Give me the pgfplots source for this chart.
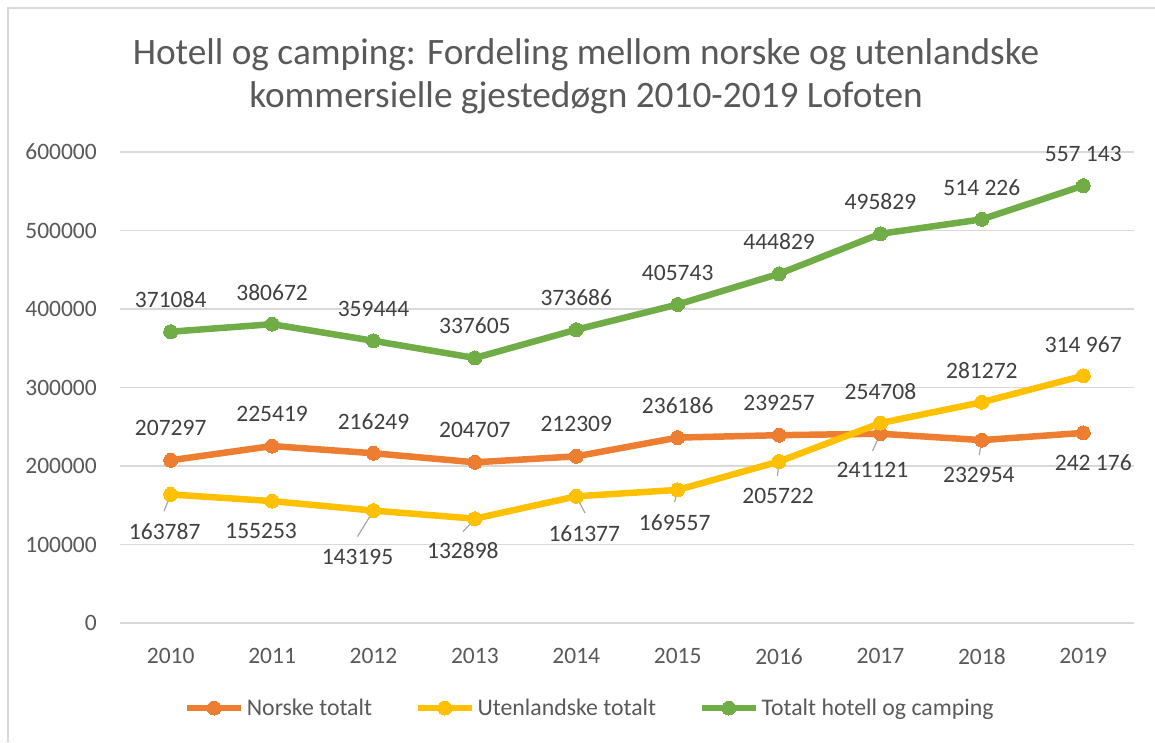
\documentclass[border=0pt]{standalone}
\usepackage{fontspec}
\setmainfont{Carlito}
\usepackage{pgfplots}
\usepackage{pgfplotstable}
\pgfplotsset{compat=1.18}
\definecolor{cOr}{HTML}{ED7D31}
\definecolor{cYe}{HTML}{FFC000}
\definecolor{cGr}{HTML}{70AD47}
\definecolor{gridc}{HTML}{D9D9D9}
\definecolor{txt}{HTML}{595959}
\definecolor{lbl}{HTML}{404040}
\definecolor{lead}{HTML}{A6A6A6}
\newcommand\lblfont{\fontsize{23.5}{28}\selectfont}

\pgfplotstableread[col sep=comma]{
x,y,lab,dx,dy
0,207297,207297,0,32
1,225419,225419,0,32
2,216249,216249,0,32
3,204707,204707,0,32
4,212309,212309,0,32
5,236186,236186,0,32
6,239257,239257,0,32
7,241121,241121,-8,-36
8,232954,232954,-3,-35
9,242176,242 176,10,-30
}\tNor

\pgfplotstableread[col sep=comma]{
x,y,lab,dx,dy
0,163787,163787,-6,-37
1,155253,155253,-11,-30
2,143195,143195,-16,-46
3,132898,132898,-12,-32
4,161377,161377,8,-37
5,169557,169557,-3,-33
6,205722,205722,-1,-34
7,254708,254708,0,31
8,281272,281272,0,32
9,314967,314 967,0,31
}\tUte

\pgfplotstableread[col sep=comma]{
x,y,lab,dx,dy
0,371084,371084,0,32
1,380672,380672,0,32
2,359444,359444,0,32
3,337605,337605,0,32
4,373686,373686,0,32
5,405743,405743,0,32
6,444829,444829,0,32
7,495829,495829,0,32
8,514226,514 226,0,32
9,557143,557 143,0,32
}\tTot

\pgfplotsset{
  datalabels/.style={forget plot, only marks, mark=none,
    nodes near coords, point meta=explicit symbolic,
    visualization depends on={\thisrow{dx}\as\dx},
    visualization depends on={\thisrow{dy}\as\dy},
    every node near coord/.append style={anchor=center, inner sep=0pt, xshift=\dx pt, yshift=\dy pt, font=\lblfont, text=lbl}},
}

\begin{document}
\begin{tikzpicture}
\path[use as bounding box] (0pt,0pt) rectangle (1155pt,742pt);
\draw[gridc, line width=1.5pt] (8pt,0pt) -- (8pt,734pt) -- (1155pt,734pt);
\node[anchor=base, text=txt, inner sep=0pt, font=\fontsize{37.3}{43}\selectfont] at (586pt,677pt) {Hotell og camping: Fordeling mellom norske og utenlandske};
\node[anchor=base, text=txt, inner sep=0pt, font=\fontsize{37.3}{43}\selectfont] at (586pt,634pt) {kommersielle gjestedøgn 2010-2019 Lofoten};
\begin{axis}[
  at={(120pt,119pt)}, anchor=south west,
  width=1014pt, height=471pt, scale only axis,
  xmin=-0.5, xmax=9.5, ymin=0, ymax=600000,
  clip=false,
  scaled y ticks=false,
  axis line style={draw=none},
  ymajorgrids, major grid style={gridc, line width=1.3pt},
  major tick length=0pt,
  xtick={0,1,2,3,4,5,6,7,8,9},
  xticklabels={2010,2011,2012,2013,2014,2015,2016,2017,2018,2019},
  ytick={0,100000,200000,300000,400000,500000,600000},
  yticklabels={0,100000,200000,300000,400000,500000,600000},
  yticklabel style={anchor=east, inner sep=0pt, xshift=-23pt, font=\lblfont, text=txt},
  xticklabel style={anchor=north, inner sep=0pt, yshift=-25pt, font=\lblfont, text=txt},
  legend columns=3,
  legend style={at={(0.4635,-0.1805)}, anchor=center, draw=none, fill=none,
    font=\fontsize{23.8}{28}\selectfont, text=txt, inner sep=0pt,
    /tikz/every even column/.append style={column sep=40pt},
    nodes={inner sep=2.5pt}},
  legend image code/.code={\draw[#1, mark repeat=2, mark phase=2] plot coordinates {(0pt,0pt) (27pt,0pt) (54pt,0pt)};},
  unbounded coords=jump,
]
\addplot[cOr, line width=6.5pt, line join=round, mark=*, mark size=7pt, mark options={solid, fill=cOr, draw=cOr, line width=0pt}] table[x=x,y=y]{\tNor};
\addlegendentry{Norske totalt}
\addplot[cYe, line width=6.5pt, line join=round, mark=*, mark size=7pt, mark options={solid, fill=cYe, draw=cYe, line width=0pt}] table[x=x,y=y]{\tUte};
\addlegendentry{Utenlandske totalt}
\addplot[cGr, line width=6.5pt, line join=round, mark=*, mark size=7pt, mark options={solid, fill=cGr, draw=cGr, line width=0pt}] table[x=x,y=y]{\tTot};
\addlegendentry{Totalt hotell og camping}

% leader lines of the data labels
\addplot[forget plot, lead, line width=1.2pt, mark=none] coordinates {
 (0,163787) (-0.066,142513) (0,nan)
 (2,143195) (1.842,110074) (2,nan)
 (3,132898) (2.882,116337) (3,nan)
 (4,161377) (4.086,140103) (4,nan)
 (5,169557) (4.970,154270) (5,nan)
 (6,205722) (5.984,186996) (6,nan)
 (7,241121) (6.923,219465) (7,nan)
 (8,232954) (7.974,213846)
};

\addplot[datalabels] table[x=x,y=y,meta=lab]{\tNor};
\addplot[datalabels] table[x=x,y=y,meta=lab]{\tUte};
\addplot[datalabels] table[x=x,y=y,meta=lab]{\tTot};
\end{axis}
\end{tikzpicture}
\end{document}
